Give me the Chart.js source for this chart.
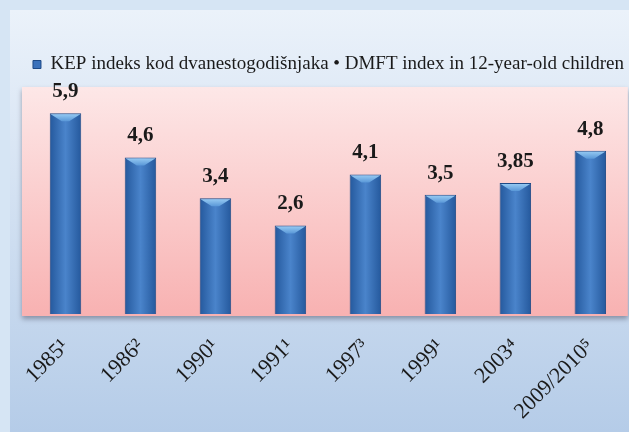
<!DOCTYPE html>
<html lang="hr">
<head>
  <meta charset="UTF-8" />
  <title>KEP indeks</title>
  <script src="https://cdn.jsdelivr.net/npm/chart.js"></script>
  <style>
    body { margin: 0; background: #d6e5f4; }
    #wrap { width: 629px; height: 432px; }
  </style>
</head>
<body>
  <div id="wrap"><canvas id="kep" width="629" height="432"></canvas></div>

  <script>
    const years = ['1985¹', '1986²', '1990¹', '1991¹', '1997³', '1999¹', '2003⁴', '2009/2010⁵'];
    const dmft = [5.9, 4.6, 3.4, 2.6, 4.1, 3.5, 3.85, 4.8];
    const seriesName = 'KEP indeks kod dvanestogodišnjaka • DMFT index in 12-year-old children';

    const backdrop = {
      id: 'backdrop',
      beforeDraw(chart) {
        const ctx = chart.ctx, a = chart.chartArea;
        ctx.save();
        ctx.fillStyle = '#d6e5f4';
        ctx.fillRect(0, 0, chart.width, chart.height);
        let g = ctx.createLinearGradient(0, 10, 0, chart.height);
        g.addColorStop(0, '#ebf2fa');
        g.addColorStop(1, '#b5cce8');
        ctx.fillStyle = g;
        ctx.fillRect(10, 10, chart.width - 10, chart.height - 10);
        // pink plot panel
        ctx.shadowColor = 'rgba(60,60,80,0.45)';
        ctx.shadowBlur = 5;
        ctx.shadowOffsetY = 3;
        g = ctx.createLinearGradient(0, a.top, 0, a.bottom);
        g.addColorStop(0, '#fde7e7');
        g.addColorStop(1, '#f8b2b2');
        ctx.fillStyle = g;
        ctx.fillRect(a.left - 6, a.top - 1, a.right - a.left + 6, a.bottom - a.top + 3);
        ctx.restore();
      }
    };

    const barStyle = {
      id: 'barStyle',
      afterDatasetsDraw(chart) {
        const ctx = chart.ctx;
        const meta = chart.getDatasetMeta(0);
        ctx.save();
        meta.data.forEach((bar, i) => {
          const w = bar.width, l = bar.x - w / 2, r = bar.x + w / 2;
          const bev = 8;
          // top bevel
          ctx.beginPath();
          ctx.moveTo(l + 1, bar.y + 1);
          ctx.lineTo(r - 1, bar.y + 1);
          ctx.lineTo(r - bev * 1.5, bar.y + bev);
          ctx.lineTo(l + bev * 1.5, bar.y + bev);
          ctx.closePath();
          const g = ctx.createLinearGradient(0, bar.y, 0, bar.y + bev);
          g.addColorStop(0, '#9ccff5');
          g.addColorStop(1, '#5a98d8');
          ctx.fillStyle = g;
          ctx.fill();
          // value label
          ctx.fillStyle = '#1a1a1a';
          ctx.font = 'bold 21px "Liberation Serif", serif';
          ctx.textAlign = 'center';
          ctx.textBaseline = 'bottom';
          ctx.fillText(String(dmft[i]).replace('.', ','), bar.x, bar.y - 11);
        });
        ctx.restore();
      }
    };

    const legendGap = {
      id: 'legendGap',
      beforeInit(chart) {
        const fit = chart.legend.fit;
        chart.legend.fit = function () {
          fit.bind(chart.legend)();
          this.height += 4;
        };
      }
    };

    new Chart(document.getElementById('kep'), {
      type: 'bar',
      data: {
        labels: years,
        datasets: [{
          label: seriesName,
          data: dmft,
          backgroundColor(c) {
            const x = c.chart.scales.x;
            if (!x || !c.chart.chartArea) return '#3b72bb';
            const cx = x.getPixelForValue(c.dataIndex);
            const half = 16;
            const g = c.chart.ctx.createLinearGradient(cx - half, 0, cx + half, 0);
            g.addColorStop(0, '#24589c');
            g.addColorStop(0.5, '#4a84cb');
            g.addColorStop(1, '#24589c');
            return g;
          },
          borderColor: '#1e4a86',
          borderWidth: 1,
          barPercentage: 0.42,
          categoryPercentage: 1
        }]
      },
      options: {
        responsive: false,
        animation: false,
        layout: { padding: { top: 45, left: 28, right: 0, bottom: 0 } },
        plugins: {
          legend: {
            display: true,
            align: 'center',
            labels: {
              color: '#1a1a1a',
              font: { family: '"Liberation Serif", serif', size: 19 },
              boxWidth: 8,
              boxHeight: 8,
              padding: 10,
              generateLabels(chart) {
                return [{
                  text: seriesName,
                  fillStyle: '#3b72bb',
                  strokeStyle: '#1e4a86',
                  lineWidth: 1,
                  fontColor: '#1a1a1a'
                }];
              }
            }
          },
          tooltip: { enabled: false }
        },
        scales: {
          x: {
            grid: { display: false, drawTicks: false },
            border: { display: false },
            ticks: {
              color: '#1a1a1a',
              font: { family: '"Liberation Serif", serif', size: 22 },
              minRotation: 45,
              maxRotation: 45,
              padding: 20,
              labelOffset: 0
            },
            afterFit(scale) { scale.height = 118; }
          },
          y: {
            display: false,
            min: 0,
            max: 6.64
          }
        }
      },
      plugins: [backdrop, barStyle, legendGap]
    });
  </script>
</body>
</html>
